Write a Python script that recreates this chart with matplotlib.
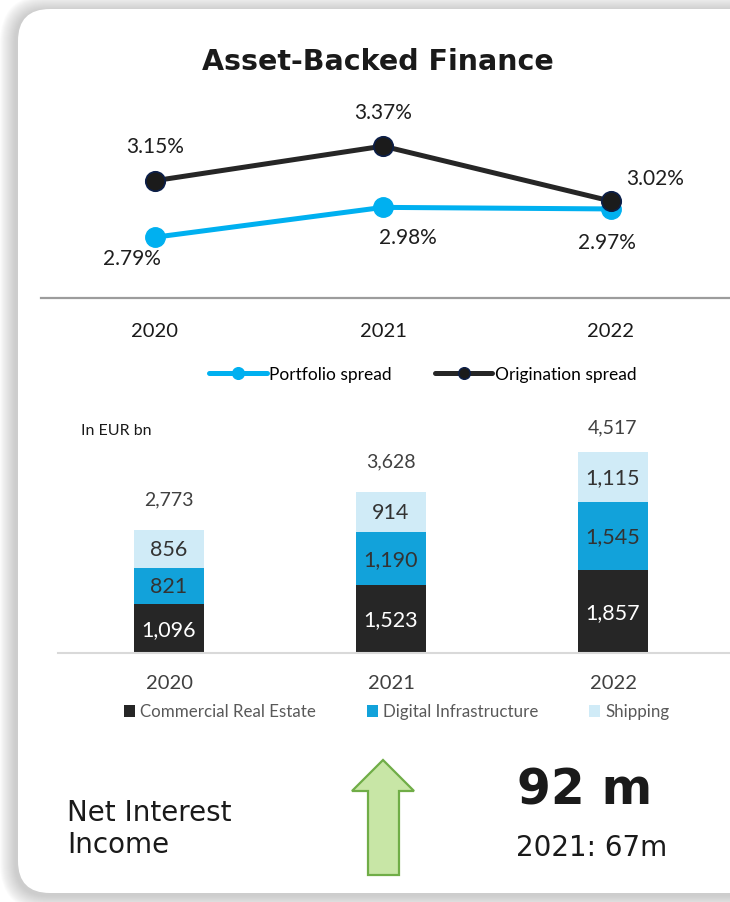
import matplotlib
matplotlib.use('Agg')
import matplotlib.pyplot as plt
from matplotlib.lines import Line2D
from matplotlib.patches import Patch, FancyBboxPatch, Polygon

# spreads (%)
years = ['2020', '2021', '2022']
portfolio_spread = [2.79, 2.98, 2.97]
origination_spread = [3.15, 3.37, 3.02]

# volumes in EUR bn, stacked
segments = ['Commercial Real Estate', 'Digital Infrastructure', 'Shipping']
commercial_re = [1096, 1523, 1857]
digital_infra = [821, 1190, 1545]
shipping = [856, 914, 1115]
totals = [2773, 3628, 4517]

nii_label = 'Net Interest\nIncome'
nii_value = '92 m'
nii_prior = '2021: 67m'

# colours / fonts
black = '#262626'
blue_line = '#00B0F0'
seg_colors = ['#262626', '#12A2DA', '#D0EBF7']
seg_text = ['white', '#333333', '#333333']
calibri = 'Lato'
verdana = 'DejaVu Sans'

W, H = 730, 903
fig = plt.figure(figsize=(W / 100, H / 100), dpi=100)
fig.patch.set_facecolor('white')


def rect(x0, y0, x1, y1):
    return [x0 / W, 1 - y1 / H, (x1 - x0) / W, (y1 - y0) / H]


# background card with soft shadow (pixel coordinates)
bg = fig.add_axes([0, 0, 1, 1], zorder=-5)
bg.set_xlim(0, W)
bg.set_ylim(H, 0)
bg.axis('off')
for i in range(16, 0, -1):
    sh = FancyBboxPatch((18 - i - 2, 10 - i + 2), 800 + 2 * i, 884 + 2 * i,
                        boxstyle='round,pad=0,rounding_size=%d' % (32 + i),
                        fc='#9a9a9a', ec='none', alpha=0.035)
    bg.add_patch(sh)
card = FancyBboxPatch((18, 10), 800, 884, boxstyle='round,pad=0,rounding_size=32',
                      fc='white', ec='none')
bg.add_patch(card)

bg.text(378, 62, 'Asset-Backed Finance', ha='center', va='center',
        fontsize=20.5, fontweight='bold', family=verdana, color='#1a1a1a')

# ---- spread lines ----
ax1 = fig.add_axes(rect(41, 100, 730, 299))
x = range(len(years))
ax1.plot(x, portfolio_spread, color=blue_line, lw=3.6, marker='o', ms=14,
         mfc=blue_line, mec=blue_line, solid_capstyle='round', zorder=3)
ax1.plot(x, origination_spread, color=black, lw=3.6, marker='o', ms=14,
         mfc='#1b1b1b', mec='#0c1f4a', mew=1.2, solid_capstyle='round', zorder=4)
ax1.set_xlim(-0.5, 2.522)
ax1.set_ylim(2.403, 3.670)

orig_off = [(0, 25), (0, 24.7), (31.7, 16.8)]
port_off = [(-16.3, -15), (18.2, -21), (-2.7, -24)]
for i, v in enumerate(origination_spread):
    ax1.annotate('%.2f%%' % v, (i, v), xytext=orig_off[i], textcoords='offset points',
                 ha='center', va='center', fontsize=15, family=calibri, color='#1e1e1e')
for i, v in enumerate(portfolio_spread):
    ax1.annotate('%.2f%%' % v, (i, v), xytext=port_off[i], textcoords='offset points',
                 ha='center', va='center', fontsize=15, family=calibri, color='#1e1e1e')

for s in ['top', 'left', 'right']:
    ax1.spines[s].set_visible(False)
ax1.spines['bottom'].set_color('#9c9c9c')
ax1.spines['bottom'].set_linewidth(1.6)
ax1.set_yticks([])
ax1.set_xticks(list(x))
ax1.set_xticklabels(years, fontsize=14.5, family=calibri, color='#1a1a1a')
ax1.tick_params(axis='x', length=0, pad=17)
ax1.patch.set_visible(False)

handles = [Line2D([], [], color=blue_line, lw=3.6, marker='o', ms=8.4, mfc=blue_line,
                  mec=blue_line, solid_capstyle='round'),
           Line2D([], [], color=black, lw=3.6, marker='o', ms=8.4, mfc='#1b1b1b',
                  mec='#0c1f4a', solid_capstyle='round')]
ax1.legend(handles, ['Portfolio spread', 'Origination spread'], loc='center',
           bbox_to_anchor=(423 / W, 1 - 375 / H), bbox_transform=fig.transFigure,
           ncol=2, frameon=False, handlelength=3.3, handletextpad=0.15,
           columnspacing=2.5, prop={'family': calibri, 'size': 12.5})

# ---- stacked volumes ----
ax2 = fig.add_axes(rect(58, 410, 730, 654.3))
bw = 0.311
bottom = [0, 0, 0]
for k, vals in enumerate([commercial_re, digital_infra, shipping]):
    ax2.bar(x, vals, bw, bottom=bottom, color=seg_colors[k], label=segments[k], zorder=2)
    for i, v in enumerate(vals):
        ax2.text(i, bottom[i] + v / 2, f'{v:,}', ha='center', va='center',
                 fontsize=15.5, family=calibri, color=seg_text[k])
    bottom = [b + v for b, v in zip(bottom, vals)]

total_off = [22.5, 22, 18]
for i, t in enumerate(totals):
    ax2.annotate(f'{t:,}', (i, t), xytext=(0, total_off[i]), textcoords='offset points',
                 ha='center', va='center', fontsize=14, family=calibri, color='#404040')

ax2.set_xlim(-0.5, 2.527)
ax2.set_ylim(0, 5478)
for s in ['top', 'left', 'right']:
    ax2.spines[s].set_visible(False)
ax2.spines['bottom'].set_color('#d9d9d9')
ax2.spines['bottom'].set_linewidth(1.5)
ax2.set_yticks([])
ax2.set_xticks(list(x))
ax2.set_xticklabels(years, fontsize=14.5, family=calibri, color='#404040')
ax2.tick_params(axis='x', length=0, pad=15)
ax2.patch.set_visible(False)

bg.text(81, 431, 'In EUR bn', ha='left', va='center', fontsize=11.5,
        family=calibri, color='#1a1a1a')

seg_handles = [Patch(fc=c, ec='none') for c in seg_colors]
ax2.legend(seg_handles, segments, loc='center',
           bbox_to_anchor=(397 / W, 1 - 712.5 / H), bbox_transform=fig.transFigure,
           ncol=3, frameon=False, handlelength=0.65, handleheight=0.7,
           handletextpad=0.3, columnspacing=3.0,
           prop={'family': calibri, 'size': 12.2}, labelcolor='#595959')

# ---- net interest income ----
bg.text(67, 829, nii_label, ha='left', va='center', fontsize=20, family=verdana,
        color='#1a1a1a', linespacing=1.2)
arrow = Polygon([(383, 761), (414, 792), (399, 792), (399, 876), (368, 876),
                 (368, 792), (352, 792)], closed=True, fc='#C8E6A6', ec='#70AD47', lw=1.6)
bg.add_patch(arrow)
bg.text(517, 791, nii_value, ha='left', va='center', fontsize=35, fontweight='bold',
        family=verdana, color='#1a1a1a')
bg.text(516, 848, nii_prior, ha='left', va='center', fontsize=20, family=verdana,
        color='#1a1a1a')

fig.savefig('out.png', dpi=100, facecolor='white')
